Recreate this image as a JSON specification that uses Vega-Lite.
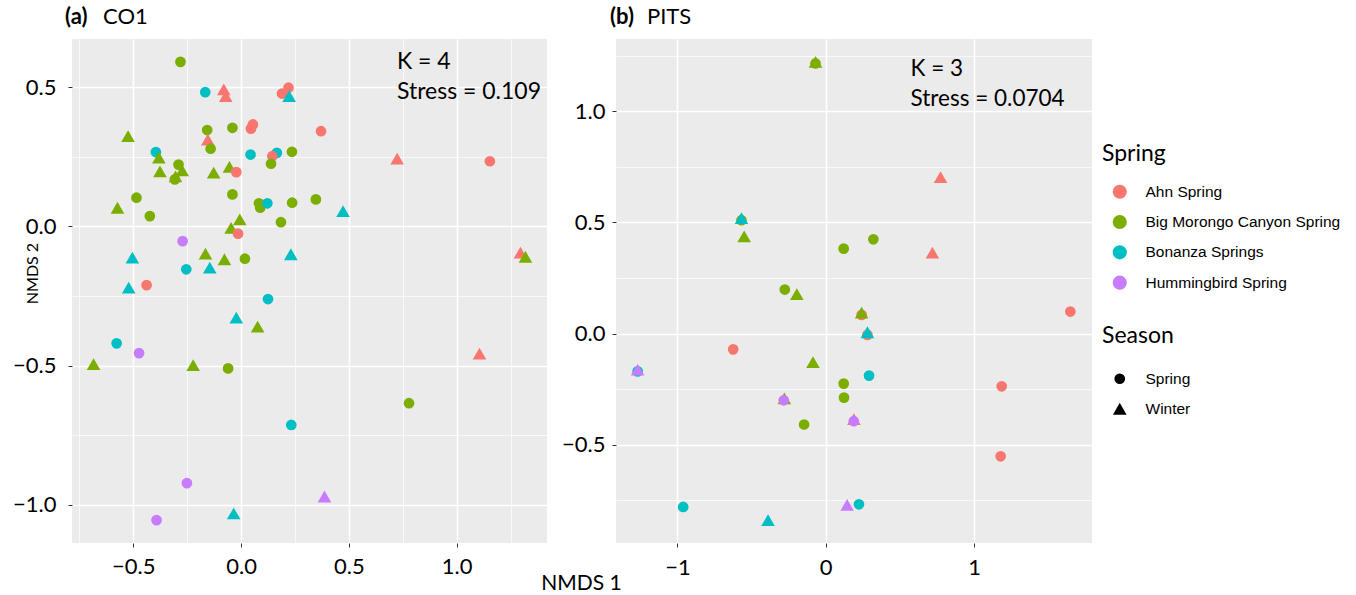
{
  "$schema": "https://vega.github.io/schema/vega-lite/v6.json",
  "background": "white",
  "padding": {"left": 12, "top": 6, "right": 5, "bottom": 5},
  "bounds": "flush",
  "spacing": 69,
  "datasets": {
    "co1": [
      {"spring": "Big Morongo Canyon Spring", "season": "Spring", "x": -0.281, "y": 0.591},
      {"spring": "Bonanza Springs", "season": "Spring", "x": -0.166, "y": 0.482},
      {"spring": "Ahn Spring", "season": "Winter", "x": -0.080, "y": 0.492},
      {"spring": "Ahn Spring", "season": "Winter", "x": -0.071, "y": 0.468},
      {"spring": "Ahn Spring", "season": "Spring", "x": 0.220, "y": 0.498},
      {"spring": "Ahn Spring", "season": "Spring", "x": 0.190, "y": 0.477},
      {"spring": "Bonanza Springs", "season": "Winter", "x": 0.223, "y": 0.468},
      {"spring": "Big Morongo Canyon Spring", "season": "Spring", "x": -0.157, "y": 0.346},
      {"spring": "Big Morongo Canyon Spring", "season": "Spring", "x": -0.040, "y": 0.354},
      {"spring": "Ahn Spring", "season": "Spring", "x": 0.055, "y": 0.366},
      {"spring": "Ahn Spring", "season": "Spring", "x": 0.046, "y": 0.351},
      {"spring": "Ahn Spring", "season": "Winter", "x": -0.154, "y": 0.312},
      {"spring": "Big Morongo Canyon Spring", "season": "Spring", "x": -0.141, "y": 0.279},
      {"spring": "Big Morongo Canyon Spring", "season": "Winter", "x": -0.524, "y": 0.324},
      {"spring": "Bonanza Springs", "season": "Spring", "x": -0.395, "y": 0.267},
      {"spring": "Big Morongo Canyon Spring", "season": "Winter", "x": -0.381, "y": 0.247},
      {"spring": "Big Morongo Canyon Spring", "season": "Winter", "x": -0.376, "y": 0.198},
      {"spring": "Big Morongo Canyon Spring", "season": "Spring", "x": -0.290, "y": 0.222},
      {"spring": "Big Morongo Canyon Spring", "season": "Winter", "x": -0.273, "y": 0.201},
      {"spring": "Big Morongo Canyon Spring", "season": "Spring", "x": -0.307, "y": 0.169},
      {"spring": "Big Morongo Canyon Spring", "season": "Winter", "x": -0.304, "y": 0.180},
      {"spring": "Big Morongo Canyon Spring", "season": "Winter", "x": -0.127, "y": 0.193},
      {"spring": "Big Morongo Canyon Spring", "season": "Winter", "x": -0.054, "y": 0.214},
      {"spring": "Ahn Spring", "season": "Spring", "x": -0.022, "y": 0.195},
      {"spring": "Bonanza Springs", "season": "Spring", "x": 0.044, "y": 0.258},
      {"spring": "Bonanza Springs", "season": "Spring", "x": 0.166, "y": 0.264},
      {"spring": "Ahn Spring", "season": "Spring", "x": 0.145, "y": 0.252},
      {"spring": "Big Morongo Canyon Spring", "season": "Spring", "x": 0.139, "y": 0.225},
      {"spring": "Big Morongo Canyon Spring", "season": "Spring", "x": 0.236, "y": 0.268},
      {"spring": "Big Morongo Canyon Spring", "season": "Spring", "x": -0.040, "y": 0.115},
      {"spring": "Big Morongo Canyon Spring", "season": "Spring", "x": 0.083, "y": 0.083},
      {"spring": "Big Morongo Canyon Spring", "season": "Spring", "x": 0.089, "y": 0.067},
      {"spring": "Bonanza Springs", "season": "Spring", "x": 0.122, "y": 0.083},
      {"spring": "Big Morongo Canyon Spring", "season": "Spring", "x": 0.237, "y": 0.085},
      {"spring": "Big Morongo Canyon Spring", "season": "Spring", "x": -0.485, "y": 0.103},
      {"spring": "Big Morongo Canyon Spring", "season": "Winter", "x": -0.573, "y": 0.067},
      {"spring": "Big Morongo Canyon Spring", "season": "Spring", "x": -0.423, "y": 0.037},
      {"spring": "Big Morongo Canyon Spring", "season": "Winter", "x": -0.006, "y": 0.025},
      {"spring": "Big Morongo Canyon Spring", "season": "Winter", "x": -0.046, "y": -0.005},
      {"spring": "Ahn Spring", "season": "Spring", "x": -0.014, "y": -0.026},
      {"spring": "Big Morongo Canyon Spring", "season": "Spring", "x": 0.185, "y": 0.015},
      {"spring": "Hummingbird Spring", "season": "Spring", "x": -0.271, "y": -0.053},
      {"spring": "Ahn Spring", "season": "Spring", "x": 0.371, "y": 0.342},
      {"spring": "Ahn Spring", "season": "Winter", "x": 0.724, "y": 0.243},
      {"spring": "Ahn Spring", "season": "Spring", "x": 1.154, "y": 0.234},
      {"spring": "Big Morongo Canyon Spring", "season": "Spring", "x": 0.347, "y": 0.097},
      {"spring": "Bonanza Springs", "season": "Winter", "x": 0.473, "y": 0.055},
      {"spring": "Bonanza Springs", "season": "Winter", "x": -0.504, "y": -0.112},
      {"spring": "Big Morongo Canyon Spring", "season": "Winter", "x": -0.165, "y": -0.098},
      {"spring": "Big Morongo Canyon Spring", "season": "Winter", "x": -0.077, "y": -0.118},
      {"spring": "Big Morongo Canyon Spring", "season": "Spring", "x": 0.018, "y": -0.116},
      {"spring": "Bonanza Springs", "season": "Winter", "x": 0.231, "y": -0.100},
      {"spring": "Bonanza Springs", "season": "Spring", "x": -0.254, "y": -0.154},
      {"spring": "Bonanza Springs", "season": "Winter", "x": -0.145, "y": -0.148},
      {"spring": "Bonanza Springs", "season": "Winter", "x": -0.521, "y": -0.220},
      {"spring": "Ahn Spring", "season": "Spring", "x": -0.438, "y": -0.211},
      {"spring": "Bonanza Springs", "season": "Spring", "x": 0.125, "y": -0.261},
      {"spring": "Bonanza Springs", "season": "Winter", "x": -0.022, "y": -0.328},
      {"spring": "Big Morongo Canyon Spring", "season": "Winter", "x": 0.077, "y": -0.360},
      {"spring": "Bonanza Springs", "season": "Spring", "x": -0.577, "y": -0.420},
      {"spring": "Hummingbird Spring", "season": "Spring", "x": -0.473, "y": -0.455},
      {"spring": "Big Morongo Canyon Spring", "season": "Winter", "x": -0.684, "y": -0.495},
      {"spring": "Big Morongo Canyon Spring", "season": "Winter", "x": -0.222, "y": -0.498},
      {"spring": "Big Morongo Canyon Spring", "season": "Spring", "x": -0.060, "y": -0.510},
      {"spring": "Ahn Spring", "season": "Winter", "x": 1.296, "y": -0.094},
      {"spring": "Big Morongo Canyon Spring", "season": "Winter", "x": 1.319, "y": -0.109},
      {"spring": "Ahn Spring", "season": "Winter", "x": 1.106, "y": -0.457},
      {"spring": "Big Morongo Canyon Spring", "season": "Spring", "x": 0.779, "y": -0.635},
      {"spring": "Bonanza Springs", "season": "Spring", "x": 0.233, "y": -0.713},
      {"spring": "Hummingbird Spring", "season": "Spring", "x": -0.251, "y": -0.922},
      {"spring": "Hummingbird Spring", "season": "Winter", "x": 0.387, "y": -0.970},
      {"spring": "Bonanza Springs", "season": "Winter", "x": -0.034, "y": -1.031},
      {"spring": "Hummingbird Spring", "season": "Spring", "x": -0.392, "y": -1.055}
    ],
    "pits": [
      {"spring": "Big Morongo Canyon Spring", "season": "Spring", "x": -0.069, "y": 1.215},
      {"spring": "Big Morongo Canyon Spring", "season": "Winter", "x": -0.069, "y": 1.222},
      {"spring": "Big Morongo Canyon Spring", "season": "Spring", "x": -0.568, "y": 0.510},
      {"spring": "Bonanza Springs", "season": "Winter", "x": -0.568, "y": 0.519},
      {"spring": "Big Morongo Canyon Spring", "season": "Winter", "x": -0.550, "y": 0.437},
      {"spring": "Big Morongo Canyon Spring", "season": "Spring", "x": 0.121, "y": 0.382},
      {"spring": "Big Morongo Canyon Spring", "season": "Spring", "x": 0.321, "y": 0.424},
      {"spring": "Big Morongo Canyon Spring", "season": "Spring", "x": -0.276, "y": 0.198},
      {"spring": "Big Morongo Canyon Spring", "season": "Winter", "x": -0.195, "y": 0.177},
      {"spring": "Ahn Spring", "season": "Winter", "x": 0.774, "y": 0.704},
      {"spring": "Ahn Spring", "season": "Winter", "x": 0.719, "y": 0.364},
      {"spring": "Ahn Spring", "season": "Spring", "x": 1.649, "y": 0.099},
      {"spring": "Ahn Spring", "season": "Spring", "x": 0.242, "y": 0.084},
      {"spring": "Big Morongo Canyon Spring", "season": "Winter", "x": 0.242, "y": 0.094},
      {"spring": "Ahn Spring", "season": "Spring", "x": 0.281, "y": -0.006},
      {"spring": "Bonanza Springs", "season": "Winter", "x": 0.281, "y": 0.006},
      {"spring": "Ahn Spring", "season": "Spring", "x": -0.624, "y": -0.071},
      {"spring": "Bonanza Springs", "season": "Spring", "x": -1.268, "y": -0.170},
      {"spring": "Hummingbird Spring", "season": "Winter", "x": -1.268, "y": -0.162},
      {"spring": "Big Morongo Canyon Spring", "season": "Winter", "x": -0.086, "y": -0.128},
      {"spring": "Bonanza Springs", "season": "Spring", "x": 0.292, "y": -0.189},
      {"spring": "Big Morongo Canyon Spring", "season": "Spring", "x": 0.121, "y": -0.225},
      {"spring": "Big Morongo Canyon Spring", "season": "Spring", "x": 0.123, "y": -0.288},
      {"spring": "Big Morongo Canyon Spring", "season": "Winter", "x": -0.279, "y": -0.291},
      {"spring": "Hummingbird Spring", "season": "Spring", "x": -0.283, "y": -0.300},
      {"spring": "Big Morongo Canyon Spring", "season": "Spring", "x": -0.146, "y": -0.409},
      {"spring": "Ahn Spring", "season": "Winter", "x": 0.190, "y": -0.385},
      {"spring": "Hummingbird Spring", "season": "Spring", "x": 0.189, "y": -0.394},
      {"spring": "Ahn Spring", "season": "Spring", "x": 1.186, "y": -0.237},
      {"spring": "Ahn Spring", "season": "Spring", "x": 1.179, "y": -0.552},
      {"spring": "Bonanza Springs", "season": "Spring", "x": -0.961, "y": -0.780},
      {"spring": "Bonanza Springs", "season": "Winter", "x": -0.389, "y": -0.839},
      {"spring": "Hummingbird Spring", "season": "Winter", "x": 0.144, "y": -0.771},
      {"spring": "Bonanza Springs", "season": "Spring", "x": 0.224, "y": -0.768}
    ],
    "annA": [
      {"label": "K = 4", "x": 0.723, "y": 0.592},
      {"label": "Stress = 0.109", "x": 0.723, "y": 0.484}
    ],
    "annB": [
      {"label": "K = 3", "x": 0.572, "y": 1.192},
      {"label": "Stress = 0.0704", "x": 0.572, "y": 1.057}
    ],
    "titleA": [
      {"part": "(a)", "x": -0.784, "y": 0.673},
      {"part": "CO1", "x": -0.784, "y": 0.673}
    ],
    "titleB": [
      {"part": "(b)", "x": -1.414, "y": 1.325},
      {"part": "PITS", "x": -1.414, "y": 1.325}
    ]
  },
  "config": {
    "font": "Lato",
    "view": {"fill": "#EBEBEB", "stroke": null},
    "axis": {
      "domain": false,
      "gridColor": "#FFFFFF",
      "tickColor": "#333333",
      "tickSize": 4,
      "tickWidth": 1,
      "labelFont": "Lato",
      "labelFontSize": 22,
      "labelColor": "#000000",
      "labelPadding": 8,
      "labelOverlap": false,
      "labelFlush": false,
      "titleFont": "Lato",
      "titleFontSize": 21,
      "titleFontWeight": "normal",
      "titleColor": "#000000"
    },
    "legend": {
      "titleFont": "Lato",
      "titleFontSize": 23,
      "titleFontWeight": "normal",
      "titleColor": "#000000",
      "labelFont": "Liberation Sans",
      "labelFontSize": 15.5,
      "labelColor": "#000000",
      "labelLimit": 400,
      "symbolSize": 200,
      "symbolStrokeWidth": 0,
      "symbolOffset": 10,
      "labelOffset": 18,
      "rowPadding": 13.3,
      "titlePadding": 18
    }
  },
  "resolve": {"scale": {"color": "shared", "shape": "shared", "size": "shared"}},
  "hconcat": [
    {
      "width": 475,
      "height": 504,
      "layer": [
        {
          "data": {"name": "co1"},
          "mark": {"type": "point", "filled": true, "opacity": 1},
          "encoding": {
            "x": {
              "field": "x", "type": "quantitative",
              "scale": {"domain": [-0.784, 1.419], "zero": false, "nice": false},
              "axis": {
                "title": "NMDS 1",
                "values": [-0.75, -0.5, -0.25, 0, 0.25, 0.5, 0.75, 1, 1.25],
                "format": ".1f",
                "labelExpr": "abs(datum.value*2-round(datum.value*2))<0.001 ? datum.label : ''",
                "gridWidth": {"condition": {"test": "abs(datum.value*2-round(datum.value*2))<0.001", "value": 1.6}, "value": 0.7},
                "tickOpacity": {"condition": {"test": "abs(datum.value*2-round(datum.value*2))<0.001", "value": 1}, "value": 0},
                "labelPadding": 9,
                "titleFontSize": 21,
                "titleX": 509,
                "titleY": 40,
                "titleBaseline": "middle",
                "titleAnchor": null
              }
            },
            "y": {
              "field": "y", "type": "quantitative",
              "scale": {"domain": [-1.137, 0.673], "zero": false, "nice": false},
              "axis": {
                "title": "NMDS 2",
                "values": [-1, -0.75, -0.5, -0.25, 0, 0.25, 0.5],
                "format": ".1f",
                "labelExpr": "abs(datum.value*2-round(datum.value*2))<0.001 ? datum.label : ''",
                "gridWidth": {"condition": {"test": "abs(datum.value*2-round(datum.value*2))<0.001", "value": 1.6}, "value": 0.7},
                "tickOpacity": {"condition": {"test": "abs(datum.value*2-round(datum.value*2))<0.001", "value": 1}, "value": 0},
                "labelPadding": 12,
                "titleFontSize": 16,
                "titleX": -40,
                "titleY": 234,
                "titleAngle": -90,
                "titleBaseline": "middle",
                "titleAlign": "center"
              }
            },
            "color": {
              "field": "spring", "type": "nominal",
              "scale": {"domain": ["Ahn Spring", "Big Morongo Canyon Spring", "Bonanza Springs", "Hummingbird Spring"], "range": ["#F8766D", "#7CAE00", "#00BFC4", "#C77CFF"]},
              "legend": {"title": "Spring", "orient": "none", "legendX": 1030, "legendY": 104, "symbolType": "circle", "symbolOpacity": 1}
            },
            "shape": {
              "field": "season", "type": "nominal",
              "scale": {"domain": ["Spring", "Winter"], "range": ["circle", "triangle-up"]},
              "legend": {"title": "Season", "orient": "none", "legendX": 1030, "legendY": 286, "symbolFillColor": "#000000", "symbolOpacity": 1, "titlePadding": 23, "rowPadding": 13}
            },
            "size": {
              "field": "season", "type": "nominal",
              "scale": {"domain": ["Spring", "Winter"], "range": [115, 185]},
              "legend": {"title": "Season", "orient": "none", "legendX": 1030, "legendY": 286, "symbolFillColor": "#000000", "symbolOpacity": 1, "titlePadding": 23, "rowPadding": 13}
            }
          }
        },
        {
          "data": {"name": "annA"},
          "mark": {"type": "text", "align": "left", "baseline": "middle", "font": "Lato", "fontSize": 23, "color": "#000000"},
          "encoding": {
            "x": {"field": "x", "type": "quantitative"},
            "y": {"field": "y", "type": "quantitative"},
            "text": {"field": "label"}
          }
        },
        {
          "data": {"name": "titleA"},
          "transform": [{"filter": "datum.part == '(a)'"}],
          "mark": {"type": "text", "align": "left", "baseline": "middle", "font": "Lato", "fontSize": 22, "fontWeight": "bold", "color": "#000000", "dx": -7, "dy": -22, "clip": false},
          "encoding": {
            "x": {"field": "x", "type": "quantitative"},
            "y": {"field": "y", "type": "quantitative"},
            "text": {"field": "part"}
          }
        },
        {
          "data": {"name": "titleA"},
          "transform": [{"filter": "datum.part == 'CO1'"}],
          "mark": {"type": "text", "align": "left", "baseline": "middle", "font": "Lato", "fontSize": 22, "color": "#000000", "dx": 31, "dy": -22, "clip": false},
          "encoding": {
            "x": {"field": "x", "type": "quantitative"},
            "y": {"field": "y", "type": "quantitative"},
            "text": {"field": "part"}
          }
        }
      ]
    },
    {
      "width": 476,
      "height": 504,
      "layer": [
        {
          "data": {"name": "pits"},
          "mark": {"type": "point", "filled": true, "opacity": 1},
          "encoding": {
            "x": {
              "field": "x", "type": "quantitative",
              "scale": {"domain": [-1.414, 1.795], "zero": false, "nice": false},
              "axis": {
                "title": null,
                "values": [-1, -0.5, 0, 0.5, 1, 1.5],
                "format": "d",
                "labelExpr": "abs(datum.value-round(datum.value))<0.001 ? datum.label : ''",
                "gridWidth": {"condition": {"test": "abs(datum.value-round(datum.value))<0.001", "value": 1.6}, "value": 0.7},
                "tickOpacity": {"condition": {"test": "abs(datum.value-round(datum.value))<0.001", "value": 1}, "value": 0},
                "labelPadding": 10
              }
            },
            "y": {
              "field": "y", "type": "quantitative",
              "scale": {"domain": [-0.942, 1.325], "zero": false, "nice": false},
              "axis": {
                "title": null,
                "values": [-0.75, -0.5, -0.25, 0, 0.25, 0.5, 0.75, 1, 1.25],
                "format": ".1f",
                "labelExpr": "abs(datum.value*2-round(datum.value*2))<0.001 ? datum.label : ''",
                "gridWidth": {"condition": {"test": "abs(datum.value*2-round(datum.value*2))<0.001", "value": 1.6}, "value": 0.7},
                "tickOpacity": {"condition": {"test": "abs(datum.value*2-round(datum.value*2))<0.001", "value": 1}, "value": 0},
                "labelPadding": 7
              }
            },
            "color": {
              "field": "spring", "type": "nominal",
              "scale": {"domain": ["Ahn Spring", "Big Morongo Canyon Spring", "Bonanza Springs", "Hummingbird Spring"], "range": ["#F8766D", "#7CAE00", "#00BFC4", "#C77CFF"]},
              "legend": {"title": "Spring", "orient": "none", "legendX": 1030, "legendY": 104, "symbolType": "circle", "symbolOpacity": 1}
            },
            "shape": {
              "field": "season", "type": "nominal",
              "scale": {"domain": ["Spring", "Winter"], "range": ["circle", "triangle-up"]},
              "legend": {"title": "Season", "orient": "none", "legendX": 1030, "legendY": 286, "symbolFillColor": "#000000", "symbolOpacity": 1, "titlePadding": 23, "rowPadding": 13}
            },
            "size": {
              "field": "season", "type": "nominal",
              "scale": {"domain": ["Spring", "Winter"], "range": [115, 185]},
              "legend": {"title": "Season", "orient": "none", "legendX": 1030, "legendY": 286, "symbolFillColor": "#000000", "symbolOpacity": 1, "titlePadding": 23, "rowPadding": 13}
            }
          }
        },
        {
          "data": {"name": "annB"},
          "mark": {"type": "text", "align": "left", "baseline": "middle", "font": "Lato", "fontSize": 22.5, "color": "#000000"},
          "encoding": {
            "x": {"field": "x", "type": "quantitative"},
            "y": {"field": "y", "type": "quantitative"},
            "text": {"field": "label"}
          }
        },
        {
          "data": {"name": "titleB"},
          "transform": [{"filter": "datum.part == '(b)'"}],
          "mark": {"type": "text", "align": "left", "baseline": "middle", "font": "Lato", "fontSize": 22, "fontWeight": "bold", "color": "#000000", "dx": -6, "dy": -22, "clip": false},
          "encoding": {
            "x": {"field": "x", "type": "quantitative"},
            "y": {"field": "y", "type": "quantitative"},
            "text": {"field": "part"}
          }
        },
        {
          "data": {"name": "titleB"},
          "transform": [{"filter": "datum.part == 'PITS'"}],
          "mark": {"type": "text", "align": "left", "baseline": "middle", "font": "Lato", "fontSize": 22, "color": "#000000", "dx": 31, "dy": -22, "clip": false},
          "encoding": {
            "x": {"field": "x", "type": "quantitative"},
            "y": {"field": "y", "type": "quantitative"},
            "text": {"field": "part"}
          }
        }
      ]
    }
  ]
}
